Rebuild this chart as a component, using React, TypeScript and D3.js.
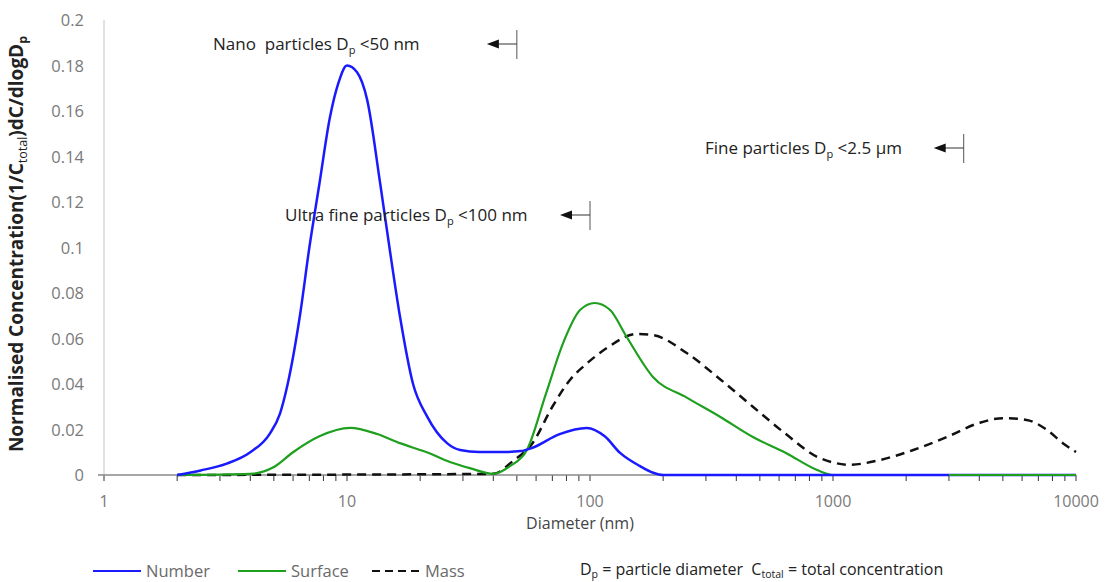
import React, { useEffect, useRef } from "react";
import * as d3 from "d3";

const numberD = [2, 2.5, 3.2, 4, 4.8, 5.3, 5.7, 6.4, 7, 7.7, 8.5, 9.2, 10, 11, 12.1, 13.7, 15, 16.5, 18.7, 21.3, 25.8, 29.2, 35, 45, 52, 58, 75, 97, 115, 133, 160, 182, 200, 10000];
const numberV = [0, 0.002, 0.005, 0.01, 0.018, 0.027, 0.04, 0.07, 0.1, 0.128, 0.157, 0.172, 0.18, 0.177, 0.165, 0.128, 0.099, 0.07, 0.04, 0.026, 0.014, 0.011, 0.0101, 0.0101, 0.0105, 0.012, 0.018, 0.0207, 0.017, 0.0097, 0.004, 0.001, 0, 0];

const surfaceD = [2, 4, 5, 6, 7.7, 10.3, 13.3, 16.5, 21.3, 26.5, 32, 40, 47, 55, 66, 77.5, 91, 104.6, 121, 141, 182, 250, 344, 468, 640, 860, 1000, 10000];
const surfaceV = [0, 0.0005, 0.0035, 0.01, 0.017, 0.0207, 0.018, 0.014, 0.01, 0.0057, 0.003, 0.0005, 0.004, 0.011, 0.036, 0.058, 0.0725, 0.0756, 0.0725, 0.061, 0.043, 0.034, 0.0255, 0.0167, 0.0097, 0.0022, 0, 0];

const massD = [2, 40, 48, 58, 70, 83, 97, 118, 156, 182, 250, 344, 468, 640, 860, 1000, 1170, 1560, 2140, 2940, 4000, 5000, 6260, 7550, 8830, 10000];
const massV = [0, 0.0005, 0.006, 0.014, 0.03, 0.042, 0.049, 0.056, 0.062, 0.0615, 0.0536, 0.042, 0.03, 0.018, 0.008, 0.0055, 0.0045, 0.0066, 0.011, 0.0167, 0.0229, 0.025, 0.0242, 0.02, 0.014, 0.0101];

const xTickLabels = [1, 10, 100, 1000, 10000];
const yTickLabels = [0, 0.02, 0.04, 0.06, 0.08, 0.1, 0.12, 0.14, 0.16, 0.18, 0.2];

const W = 1109;
const H = 582;
const FONT = "'Open Sans', 'Noto Sans', sans-serif";

export default function App() {
  const ref = useRef<SVGSVGElement | null>(null);

  useEffect(() => {
    document.body.style.margin = "0";
    const svg = d3.select(ref.current);
    svg.selectAll("*").remove();

    const x = d3.scaleLog().domain([1, 10000]).range([104, 1076]);
    const y = d3.scaleLinear().domain([0, 0.2]).range([475, 20]);

    // y axis line
    svg.append("line").attr("x1", 104).attr("x2", 104).attr("y1", 20).attr("y2", 475)
      .attr("stroke", "#c4c4c4").attr("stroke-width", 1);

    // y tick labels
    svg.append("g").selectAll("text").data(yTickLabels).join("text")
      .attr("x", 84).attr("y", (d) => y(d) + 6)
      .attr("text-anchor", "end")
      .attr("font-family", FONT).attr("font-size", 16.5).attr("fill", "#7a7a7a")
      .text((d) => String(d));

    // x ticks (major + minor)
    const ticks: number[] = [];
    for (let e = 0; e < 4; e++) for (let k = 1; k < 10; k++) ticks.push(k * Math.pow(10, e));
    ticks.push(10000);
    svg.append("g").selectAll("line").data(ticks).join("line")
      .attr("x1", (d) => x(d)).attr("x2", (d) => x(d))
      .attr("y1", 475).attr("y2", 481)
      .attr("stroke", "#333").attr("stroke-width", 1);

    svg.append("g").selectAll("text").data(xTickLabels).join("text")
      .attr("x", (d) => x(d)).attr("y", 507)
      .attr("text-anchor", "middle")
      .attr("font-family", FONT).attr("font-size", 16).attr("fill", "#7a7a7a")
      .text((d) => String(d));

    // x axis line
    svg.append("line").attr("x1", 98).attr("x2", 1076).attr("y1", 475).attr("y2", 475)
      .attr("stroke", "#888").attr("stroke-width", 1.5);

    // axis titles
    svg.append("text").attr("x", 580).attr("y", 529).attr("text-anchor", "middle")
      .attr("font-family", FONT).attr("font-size", 16).attr("fill", "#444")
      .text("Diameter (nm)");

    const yl = svg.append("text")
      .attr("transform", "translate(23,244) rotate(-90)")
      .attr("text-anchor", "middle")
      .attr("font-family", FONT).attr("font-size", 19).attr("font-weight", "bold").attr("fill", "#222");
    yl.append("tspan").text("Normalised Concentration(1/C");
    yl.append("tspan").attr("font-size", 12.5).attr("dy", 4).attr("font-weight", "normal").text("total");
    yl.append("tspan").attr("dy", -4).text(")dC/dlogD");
    yl.append("tspan").attr("font-size", 12.5).attr("dy", 4).text("p");

    const line = d3.line<[number, number]>()
      .x((d) => x(d[0])).y((d) => y(d[1]))
      .curve(d3.curveMonotoneX);

    const series = [
      { d: massD, v: massV, color: "#111", width: 2.5, dash: "9,6" },
      { d: surfaceD, v: surfaceV, color: "#1ea01e", width: 2.2, dash: null },
      { d: numberD, v: numberV, color: "#1a1aff", width: 2.5, dash: null },
    ];
    series.forEach((s) => {
      const pts = s.d.map((dd, i) => [dd, s.v[i]] as [number, number]);
      const p = svg.append("path").attr("d", line(pts) as string)
        .attr("fill", "none").attr("stroke", s.color).attr("stroke-width", s.width);
      if (s.dash) p.attr("stroke-dasharray", s.dash);
    });
    // green drawn over the zero blue line at far right
    {
      const seg: [number, number][] = [[3000, 0], [10000, 0]];
      svg.append("path").attr("d", line(seg) as string)
        .attr("fill", "none").attr("stroke", "#1ea01e").attr("stroke-width", 2.2);
    }

    // annotations
    const ann = [
      { label: "Nano  particles D", sub: "p", rest: " <50 nm", tx: 213, ty: 50, lim: 50, ay: 44 },
      { label: "Ultra fine particles D", sub: "p", rest: " <100 nm", tx: 285, ty: 221, lim: 100, ay: 215 },
      { label: "Fine particles D", sub: "p", rest: " <2.5 µm", tx: 705, ty: 154, lim: 3450, ay: 148 },
    ];
    ann.forEach((a) => {
      const t = svg.append("text").attr("x", a.tx).attr("y", a.ty)
        .style("white-space", "pre")
        .attr("font-family", FONT).attr("font-size", 17).attr("fill", "#222");
      t.append("tspan").text(a.label);
      t.append("tspan").attr("font-size", 11).attr("dy", 4).text(a.sub);
      t.append("tspan").attr("dy", -4).text(a.rest);
      const xl = x(a.lim);
      svg.append("line").attr("x1", xl).attr("x2", xl).attr("y1", a.ay - 14).attr("y2", a.ay + 15)
        .attr("stroke", "#555").attr("stroke-width", 1);
      svg.append("line").attr("x1", xl).attr("x2", xl - 22).attr("y1", a.ay).attr("y2", a.ay)
        .attr("stroke", "#333").attr("stroke-width", 1);
      svg.append("path")
        .attr("d", `M${xl - 30},${a.ay} L${xl - 18},${a.ay - 4.5} L${xl - 18},${a.ay + 4.5} Z`)
        .attr("fill", "#111");
    });

    // legend
    const leg = [
      { x0: 93, name: "Number", color: "#1a1aff", dash: null },
      { x0: 238, name: "Surface", color: "#1ea01e", dash: null },
      { x0: 372, name: "Mass", color: "#111", dash: "8,5" },
    ];
    leg.forEach((l) => {
      const ln = svg.append("line").attr("x1", l.x0).attr("x2", l.x0 + 48).attr("y1", 571).attr("y2", 571)
        .attr("stroke", l.color).attr("stroke-width", 2);
      if (l.dash) ln.attr("stroke-dasharray", l.dash);
      svg.append("text").attr("x", l.x0 + 53).attr("y", 577)
        .attr("font-family", FONT).attr("font-size", 16.5).attr("fill", "#6a6a6a").text(l.name);
    });
    const note = svg.append("text").attr("x", 580).attr("y", 575)
      .style("white-space", "pre")
      .attr("font-family", FONT).attr("font-size", 16).attr("fill", "#222");
    note.append("tspan").text("D");
    note.append("tspan").attr("font-size", 10.5).attr("dy", 3).text("p");
    note.append("tspan").attr("dy", -3).text(" = particle diameter  C");
    note.append("tspan").attr("font-size", 10.5).attr("dy", 3).text("total");
    note.append("tspan").attr("dy", -3).text(" = total concentration");
  }, []);

  return <svg ref={ref} width={W} height={H} style={{ display: "block", background: "#fff" }} />;
}
